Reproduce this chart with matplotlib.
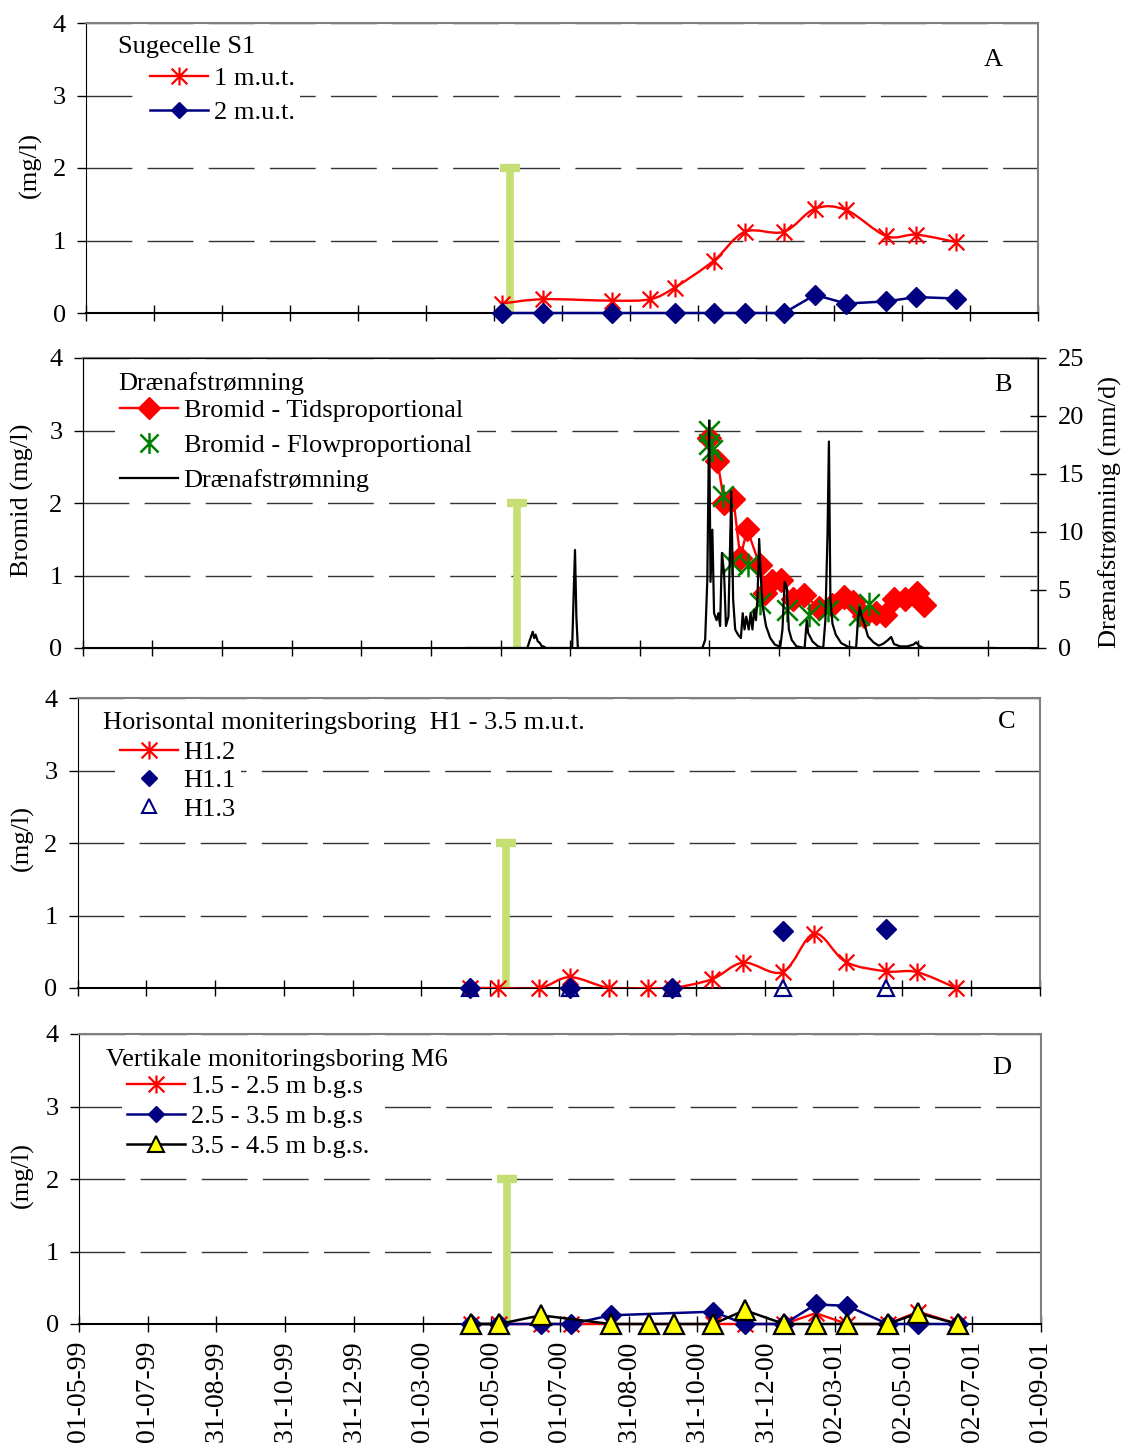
import numpy as np
import pandas as pd
import matplotlib
matplotlib.use("Agg")
import matplotlib.pyplot as plt
import matplotlib.dates as mdates
from matplotlib.path import Path
from matplotlib.patches import PathPatch
from matplotlib.lines import Line2D
from matplotlib.ticker import FixedLocator

plt.rcParams['font.family'] = ['Liberation Serif', 'DejaVu Serif']
plt.rcParams['font.size'] = 19

# ---- data -------------------------------------------------------------
x_start = '1999-05-01'
x_end = '2001-09-01'
x_end_b = '2001-08-15'
application = ['2000-05-15']      # bromide application (green bar)
application_height = [2]

# A: Sugecelle S1
a_1m_dates = ['2000-05-08', '2000-06-14', '2000-08-15', '2000-09-18', '2000-10-10', '2000-11-14',
              '2000-12-12', '2001-01-16', '2001-02-13', '2001-03-13', '2001-04-18', '2001-05-15',
              '2001-06-19']
a_1m = [0.13, 0.19, 0.17, 0.19, 0.35, 0.72, 1.12, 1.12, 1.44, 1.42, 1.06, 1.08, 0.98]
a_2m_dates = ['2000-05-08', '2000-06-14', '2000-08-15', '2000-10-10', '2000-11-14', '2000-12-12',
              '2001-01-16', '2001-02-13', '2001-03-13', '2001-04-18', '2001-05-15', '2001-06-19']
a_2m = [0, 0, 0, 0, 0, 0, 0, 0.25, 0.13, 0.16, 0.22, 0.20]

# B: drain
b_tid_dates = ['2000-10-31', '2000-11-07', '2000-11-13', '2000-11-21', '2000-11-27', '2000-12-03',
               '2000-12-14', '2000-12-19', '2000-12-25', '2001-01-02', '2001-01-12', '2001-01-22',
               '2001-02-04', '2001-02-15', '2001-02-26', '2001-03-06', '2001-03-15', '2001-03-26',
               '2001-04-03', '2001-04-11', '2001-04-20', '2001-05-01', '2001-05-07']
b_tid = [2.9, 2.58, 2.0, 2.05, 1.24, 1.64, 1.14, 0.76, 0.92, 0.94, 0.67, 0.73,
         0.55, 0.6, 0.71, 0.64, 0.44, 0.48, 0.46, 0.67, 0.67, 0.76, 0.6]
b_flowprop_dates = ['2000-10-31', '2000-10-31', '2000-11-02', '2000-11-12', '2000-11-20', '2000-12-04',
                    '2000-12-14', '2001-01-07', '2001-01-26', '2001-02-12', '2001-03-11', '2001-03-20']
b_flowprop = [3.0, 2.82, 2.73, 2.09, 1.17, 1.14, 0.62, 0.53, 0.46, 0.53, 0.46, 0.61]
# drain discharge (mm/d), day offset from 2000-05-01
flow_day = [-30, 23.5, 25.7, 28.2, 29.5, 30.7, 32.6, 34.5, 35.7, 38.2, 39.8,
            62.7, 63.9, 65.2, 66.4, 67.7,
            176.7, 179.2, 181.1, 182.7, 183.9, 185.5, 187, 189.2, 190.8, 192.3, 193.9, 195.8,
            197.4, 199.6, 202.1, 203.7, 205.5, 208, 210.5, 212.1, 213.7, 215.2, 217.4, 219,
            220.6, 222.1, 223.7, 225, 226.5, 228.1, 229.6, 232.5, 236.2, 240.3, 245, 246.9,
            248.8, 250.6, 252.5, 255, 259.1, 266.3, 268.2, 269.4, 273.2, 277.9, 282.6, 284.5,
            286.4, 287.6, 288.9, 290.7, 293.6, 298.3, 304.5, 311.4, 313, 314.5, 316.4, 318.6,
            321.8, 326.5, 331.2, 335.2, 339, 342.1, 344.6, 350, 356.2, 361.5, 364, 366.5,
            370.3, 433]
flow_mm = [0, 0, 0.7, 1.4, 0.85, 1.15, 0.57, 0.43, 0.2, 0.1, 0,
           0, 4.2, 8.45, 2.7, 0,
           0, 0.7, 5.9, 19.6, 5.7, 10.2, 3.0, 2.4, 3.0, 1.9, 8.2, 6.4,
           1.9, 2.7, 13.5, 4.2, 1.6, 1.15, 0.86, 3.0, 1.6, 2.7, 1.6, 3.0,
           1.6, 3.3, 2.4, 4.2, 9.4, 5.9, 3.6, 1.9, 0.86, 0.29, 0.1, 1.6,
           5.7, 5.3, 1.6, 0.7, 0.15, 0, 2.4, 1.3, 0.57, 0.15, 0, 2.4,
           9.9, 17.8, 4.2, 2.1, 1.15, 0.43, 0.1, 0, 2.4, 3.5, 2.7, 2.1,
           1.0, 0.5, 0.2, 0.37, 0.66, 0.95, 0.34, 0.14, 0.14, 0.29, 0.49, 0.2,
           0, 0]

# C: H1
c_h12_dates = ['2000-04-13', '2000-05-08', '2000-06-14', '2000-07-11', '2000-08-15', '2000-09-18',
               '2000-10-10', '2000-11-14', '2000-12-12', '2001-01-16', '2001-02-13', '2001-03-13',
               '2001-04-18', '2001-05-15', '2001-06-19']
c_h12 = [0, 0, 0, 0.15, 0, 0, 0, 0.12, 0.35, 0.22, 0.75, 0.36, 0.23, 0.22, 0]
c_h1x_dates = ['2000-04-13', '2000-07-11', '2000-10-10', '2001-01-16', '2001-04-18']
c_h11 = [0, 0, 0, 0.78, 0.81]
c_h13 = [0, 0, 0, 0, 0]

# D: M6
d_dates = ['2000-04-13', '2000-05-08', '2000-06-14', '2000-07-11', '2000-08-15', '2000-11-14',
           '2000-12-12', '2001-01-16', '2001-02-13', '2001-03-13', '2001-04-18', '2001-05-15',
           '2001-06-19']
d_15 = [0, 0, 0, 0, 0, 0, 0, 0, 0.15, 0, 0, 0.17, 0]
d_25 = [0, 0, 0, 0, 0.12, 0.17, 0, 0, 0.27, 0.25, 0, 0, 0]
d_35_dates = ['2000-04-13', '2000-05-08', '2000-06-14', '2000-08-15', '2000-09-18', '2000-10-10',
              '2000-11-14', '2000-12-12', '2001-01-16', '2001-02-13', '2001-03-13', '2001-04-18',
              '2001-05-15', '2001-06-19']
d_35 = [0, 0, 0.12, 0, 0, 0, 0, 0.19, 0, 0, 0, 0, 0.15, 0]

# ---- helpers ----------------------------------------------------------
W, H = 1127, 1445
RED, NAVY, GREEN, BARC = '#FF0000', '#000080', '#008000', '#C6DF74'
star = Path([(-1, -1), (1, 1), (-1, 1), (1, -1), (0, -1.15), (0, 1.15)],
            [Path.MOVETO, Path.LINETO, Path.MOVETO, Path.LINETO, Path.MOVETO, Path.LINETO])


def dn(dates):
    return mdates.date2num(pd.to_datetime(dates))


def smooth_line(ax, x, y, **kw):
    # Excel-style smoothed line (cubic Bezier through the points)
    p = np.column_stack([x, y])
    n = len(p)
    verts, codes = [p[0]], [Path.MOVETO]
    for i in range(n - 1):
        p0 = p[i - 1] if i > 0 else p[i]
        p3 = p[i + 2] if i + 2 < n else p[i + 1]
        verts += [p[i] + (p[i + 1] - p0) / 6, p[i + 1] - (p3 - p[i]) / 6, p[i + 1]]
        codes += [Path.CURVE4] * 3
    ax.add_patch(PathPatch(Path(verts, codes), fill=False, **kw))


def new_axes(l, r, t, b):
    return fig.add_axes([l / W, 1 - b / H, (r - l) / W, (b - t) / H])


def style(ax, xmax, labels=False):
    ax.set_xlim(dn(x_start), dn(xmax))
    ax.set_ylim(0, 4)
    ax.set_yticks(range(5))
    ax.xaxis.set_major_locator(FixedLocator(dn(pd.date_range(x_start, periods=15, freq='61D'))))
    ax.xaxis.set_major_formatter(mdates.DateFormatter('%d-%m-%y'))
    ax.tick_params(axis='x', direction='inout', length=12, width=1, labelbottom=labels,
                   labelrotation=90, pad=6, labelsize=20)
    ax.tick_params(axis='y', direction='out', length=6.5, width=1, pad=8)
    ax.grid(axis='y', color='#333333', lw=1, linestyle=(0, (33, 11)))
    ax.set_axisbelow(True)
    for s in ['top', 'right']:
        ax.spines[s].set_color('#808080')
        ax.spines[s].set_linewidth(1.5)
    ax.spines['bottom'].set_linewidth(1.5)


def app_bar(ax):
    x = dn(application)
    ax.vlines(x, 0, application_height, color=BARC, lw=5.5, zorder=2.5)
    ax.plot(x, application_height, marker='_', ms=15, mew=6, color=BARC, ls='none', zorder=2.5)


def ftext(x, y, s, **kw):
    fig.text(x / W, 1 - y / H, s, **kw)


def legend(ax, handles, labels, x, y, spacing):
    leg = ax.legend(handles, labels, loc='upper left', bbox_to_anchor=(x / W, 1 - y / H),
                    bbox_transform=fig.transFigure, borderaxespad=0, borderpad=0.2,
                    handlelength=2.2, handletextpad=0.2, labelspacing=spacing,
                    frameon=True, fancybox=False, framealpha=1, edgecolor='none', facecolor='white')
    leg.set_zorder(5)


fig = plt.figure(figsize=(W / 100, H / 100), dpi=100)

# ---- A ----------------------------------------------------------------
axA = new_axes(86, 1038, 23, 313)
style(axA, x_end)
app_bar(axA)
smooth_line(axA, dn(a_1m_dates), a_1m, edgecolor=RED, lw=1.7, zorder=3)
axA.plot(dn(a_1m_dates), a_1m, ls='none', marker=star, ms=13, mew=1.6, color=RED, mfc='none',
         zorder=3, clip_on=False)
axA.plot(dn(a_2m_dates), a_2m, color=NAVY, lw=1.8, marker='D', ms=10, zorder=3, clip_on=False)
legend(axA, [Line2D([], [], color=RED, lw=1.7, marker=star, ms=13, mew=1.6, mfc='none'),
             Line2D([], [], color=NAVY, lw=1.8, marker='D', ms=8)],
       ['1 m.u.t.', '2 m.u.t.'], 145, 61, 0.42)
ftext(118, 47, 'Sugecelle S1', va='center', ha='left', zorder=10)
ftext(993, 60, 'A', va='center', ha='center')
ftext(30, 165, '(mg/l)', rotation=90, va='center', ha='center')

# ---- B ----------------------------------------------------------------
axB = new_axes(82.7, 1038.3, 358, 648)
style(axB, x_end_b)
app_bar(axB)
axB.plot(dn(b_tid_dates), b_tid, color=RED, lw=1.7, marker='D', ms=12, zorder=3)
axB.plot(dn(b_flowprop_dates), b_flowprop, ls='none', marker=star, ms=17, mew=1.8, color=GREEN,
         mfc='none', zorder=3)
axB2 = axB.twinx()
flow_dates = pd.Timestamp('2000-05-01') + pd.to_timedelta(flow_day, unit='D')
axB2.plot(dn(flow_dates), flow_mm, color='black', lw=1.6)
axB2.set_ylim(0, 25)
axB2.set_yticks(range(0, 30, 5))
axB2.tick_params(axis='y', direction='inout', length=12, width=1, pad=8)
axB2.set_xlim(dn(x_start), dn(x_end_b))
legend(axB, [Line2D([], [], color=RED, lw=1.7, marker='D', ms=11),
             Line2D([], [], ls='none', color=GREEN, marker=star, ms=15, mew=1.8, mfc='none'),
             Line2D([], [], color='black', lw=1.6)],
       ['Bromid - Tidsproportional', 'Bromid - Flowproportional', 'Drænafstrømning'],
       115, 393, 0.45)
ftext(118, 384, 'Drænafstrømning', va='center', ha='left', zorder=10)
ftext(1003, 385, 'B', va='center', ha='center')
ftext(22, 500, 'Bromid (mg/l)', rotation=90, va='center', ha='center')
ftext(1110, 512, 'Drænafstrømning (mm/d)', rotation=90, va='center', ha='center')

# ---- C ----------------------------------------------------------------
axC = new_axes(77.7, 1039.5, 698, 988)
style(axC, x_end)
app_bar(axC)
smooth_line(axC, dn(c_h12_dates), c_h12, edgecolor=RED, lw=1.7, zorder=3)
axC.plot(dn(c_h12_dates), c_h12, ls='none', marker=star, ms=13, mew=1.6, color=RED, mfc='none',
         zorder=3, clip_on=False)
axC.plot(dn(c_h1x_dates), c_h11, ls='none', marker='D', ms=10, color=NAVY, zorder=3, clip_on=False)
axC.plot(dn(c_h1x_dates), c_h13, ls='none', marker='^', ms=12, mew=1.6, color=NAVY, mfc='none',
         zorder=3, clip_on=False)
legend(axC, [Line2D([], [], color=RED, lw=1.7, marker=star, ms=13, mew=1.6, mfc='none'),
             Line2D([], [], ls='none', color=NAVY, marker='D', ms=8),
             Line2D([], [], ls='none', color=NAVY, marker='^', ms=10, mew=1.5, mfc='none')],
       ['H1.2', 'H1.1', 'H1.3'], 115, 735, 0.19)
ftext(103, 723, 'Horisontal moniteringsboring  H1 - 3.5 m.u.t.', va='center', ha='left', zorder=10)
ftext(1007, 722, 'C', va='center', ha='center')
ftext(22, 838, '(mg/l)', rotation=90, va='center', ha='center')

# ---- D ----------------------------------------------------------------
axD = new_axes(79, 1041, 1034, 1324)
style(axD, x_end, labels=True)
app_bar(axD)
axD.plot(dn(d_dates), d_15, color=RED, lw=1.7, marker=star, ms=13, mew=1.6, mfc='none',
         zorder=3, clip_on=False)
axD.plot(dn(d_dates), d_25, color=NAVY, lw=1.8, marker='D', ms=10, zorder=3, clip_on=False)
axD.plot(dn(d_35_dates), d_35, color='black', lw=1.8, marker='^', ms=14, mew=1.6,
         mfc='#FFFF00', mec='black', zorder=3, clip_on=False)
legend(axD, [Line2D([], [], color=RED, lw=1.7, marker=star, ms=13, mew=1.6, mfc='none'),
             Line2D([], [], color=NAVY, lw=1.8, marker='D', ms=8),
             Line2D([], [], color='black', lw=1.8, marker='^', ms=11, mew=1.5, mfc='#FFFF00', mec='black')],
       ['1.5 - 2.5 m b.g.s', '2.5 - 3.5 m b.g.s', '3.5 - 4.5 m b.g.s.'], 122, 1069, 0.25)
ftext(106, 1060, 'Vertikale monitoringsboring M6', va='center', ha='left', zorder=10)
ftext(1002, 1068, 'D', va='center', ha='center')
ftext(22, 1175, '(mg/l)', rotation=90, va='center', ha='center')

fig.savefig('out.png', dpi=100)
